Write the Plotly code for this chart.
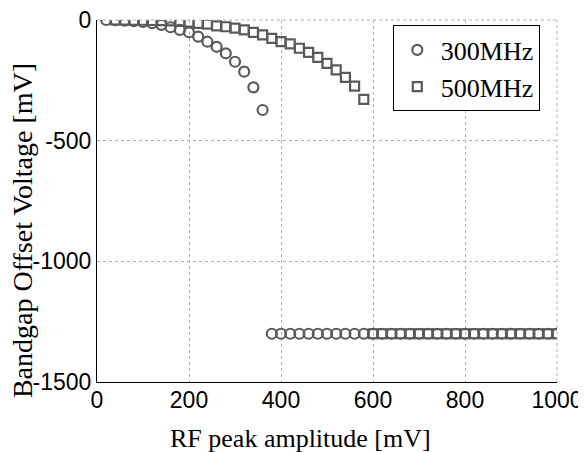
import plotly.graph_objects as go

# 300 MHz series
x300_a = [20, 40, 60, 80, 100, 120, 140, 160, 180, 200, 220, 240, 260, 280, 300, 320, 340, 360]
y300_a = [0, -1, -3, -5, -8, -13, -20, -30, -41, -51, -69, -90, -111, -138, -173, -214, -279, -373]
x300_b = list(range(380, 1001, 20))
y300_b = [-1300] * len(x300_b)

# 500 MHz series
x500_a = [40, 60, 80, 100, 120, 140, 160, 180, 200, 220, 240, 260, 280, 300, 320, 340, 360, 380,
          400, 420, 440, 460, 480, 500, 520, 540, 560, 580]
y500_a = [0, 0, -1, -1, -2, -3, -4, -6, -9, -14, -17, -24, -28, -34, -41, -51, -62, -76,
          -90, -99, -117, -134, -155, -180, -207, -238, -274, -329]
x500_b = list(range(600, 1001, 20))
y500_b = [-1300] * len(x500_b)

x300 = x300_a + x300_b
y300 = y300_a + y300_b
x500 = x500_a + x500_b
y500 = y500_a + y500_b

x_ticks = [0, 200, 400, 600, 800, 1000]
y_ticks = [0, -500, -1000, -1500]

x_title = "RF peak amplitude [mV]"
y_title = "Bandgap Offset Voltage [mV]"

mcol = "#5a5a5a"
serif = "Liberation Serif, Times New Roman, serif"
sans = "Liberation Sans, Arial, sans-serif"

fig = go.Figure()
fig.add_trace(go.Scatter(x=x300, y=y300, mode="markers", name="300MHz",
                         marker=dict(symbol="circle-open", size=10, color=mcol, line=dict(width=2.2, color=mcol))))
fig.add_trace(go.Scatter(x=x500, y=y500, mode="markers", name="500MHz",
                         marker=dict(symbol="square-open", size=9, color=mcol, line=dict(width=2.2, color=mcol))))

grid = dict(showgrid=True, gridcolor="#b0b0b0", griddash="dot", gridwidth=1, zeroline=False)
fig.update_xaxes(range=[0, 1000], tickvals=x_ticks, ticktext=[str(v) for v in x_ticks],
                 showline=True, linecolor="black", linewidth=1, ticks="",
                 ticklabeloverflow="allow", ticklabelstandoff=-3,
                 tickfont=dict(family=sans, size=23, color="black"),
                 **grid)
fig.update_yaxes(range=[-1500, 0], tickvals=y_ticks, ticktext=[str(v) for v in y_ticks],
                 showline=True, linecolor="black", linewidth=1, ticks="",
                 ticklabeloverflow="allow",
                 tickfont=dict(family=sans, size=23, color="black"),
                 **grid)

# axis titles
fig.add_annotation(text=x_title, xref="paper", yref="paper", x=0.443, y=-0.155,
                   xanchor="center", yanchor="middle", showarrow=False,
                   font=dict(family=serif, size=26, color="black"))
fig.add_annotation(text=y_title, xref="paper", yref="paper", x=-0.163, y=0.417,
                   xanchor="center", yanchor="middle", showarrow=False, textangle=-90,
                   font=dict(family=serif, size=28, color="black"))

# dotted top and right frame edges
fig.add_shape(type="line", xref="paper", yref="paper", x0=0, x1=1, y0=1, y1=1,
              line=dict(color="#b0b0b0", width=1, dash="dot"))
fig.add_shape(type="line", xref="paper", yref="paper", x0=1, x1=1, y0=0, y1=1,
              line=dict(color="#b0b0b0", width=1, dash="dot"))

fig.update_layout(
    width=586, height=452,
    margin=dict(l=89, r=37, t=12, b=78, autoexpand=False),
    plot_bgcolor="white", paper_bgcolor="white",
    showlegend=True,
    legend=dict(x=0.643, y=0.985, xanchor="left", yanchor="top",
                bgcolor="white", bordercolor="black", borderwidth=1,
                font=dict(family=serif, size=26, color="black"),
                itemwidth=37, tracegroupgap=0),
)

fig.write_html("out.html")
